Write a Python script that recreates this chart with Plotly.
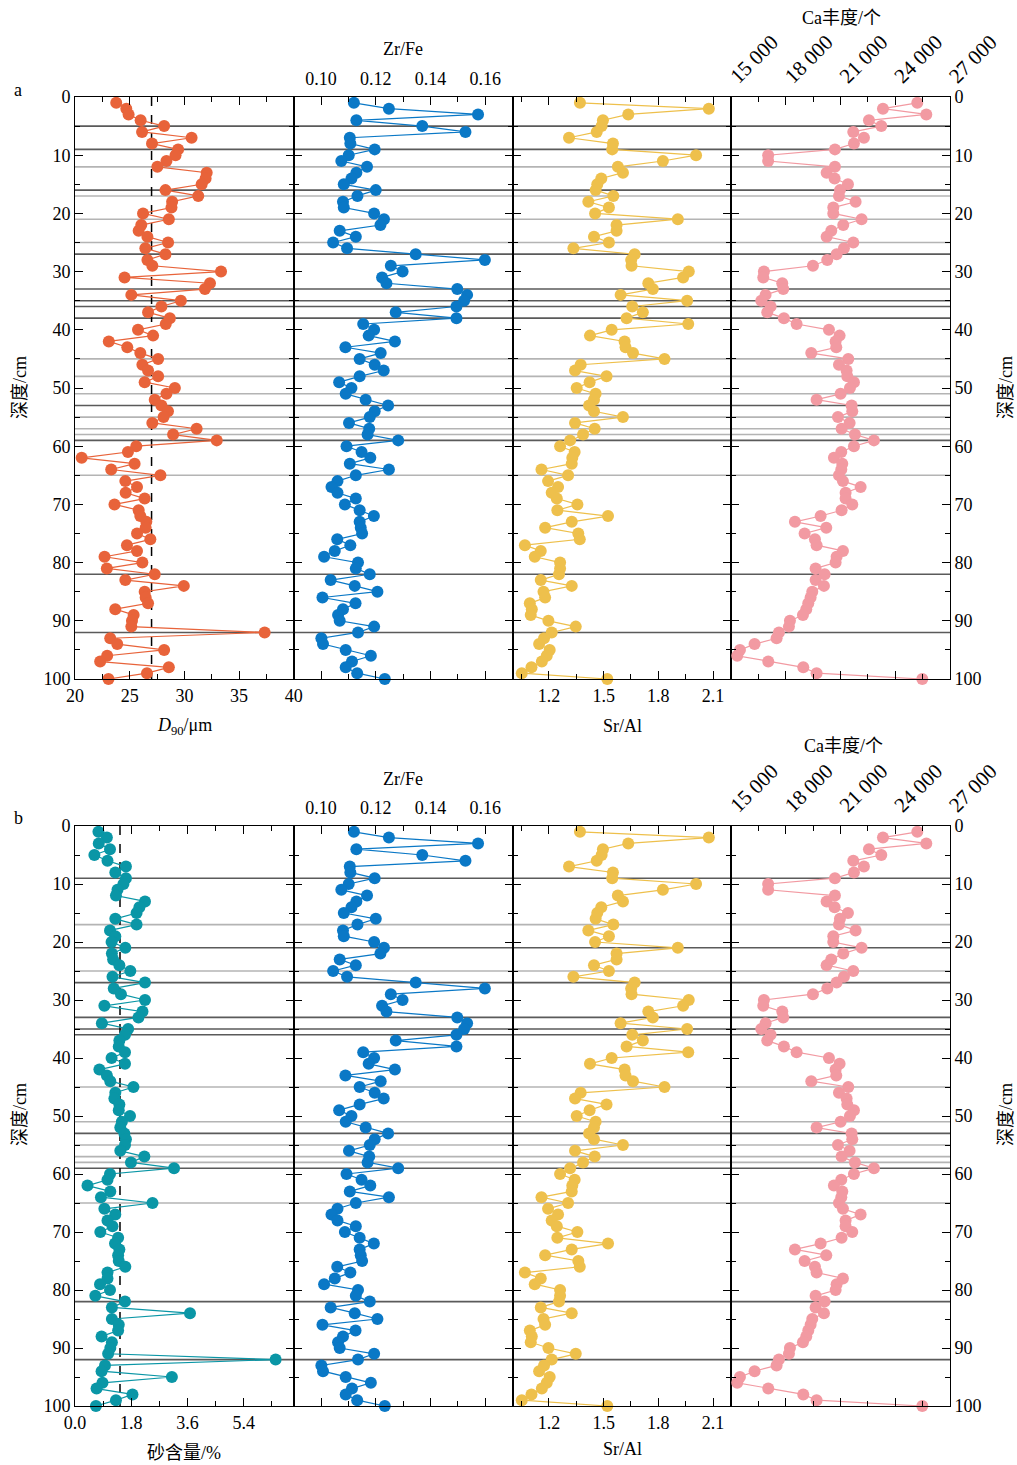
import plotly.graph_objects as go

W, H = 1017, 1465

depth = list(range(1, 101))

d90 = [23.77, 24.69, 24.9, 26.0, 28.15, 26.13, 30.66, 27.04, 29.43, 29.19,
       28.36, 27.53, 32.04, 31.94, 31.58, 28.27, 31.27, 28.88, 28.82, 26.22,
       28.58, 26.06, 25.82, 26.62, 28.51, 26.43, 28.27, 26.62, 27.07, 33.35,
       24.53, 32.34, 31.88, 25.15, 29.68, 27.9, 26.68, 28.67, 28.3, 25.76,
       27.14, 23.09, 24.78, 25.97, 27.6, 26.16, 26.68, 27.6, 26.37, 29.13,
       28.36, 27.29, 27.9, 28.5, 28.1, 27.07, 31.12, 28.97, 32.96, 25.6,
       24.84, 20.61, 25.45, 23.31, 27.81, 24.6, 25.67, 24.63, 26.37, 23.61,
       25.82, 25.97, 26.52, 26.46, 25.67, 26.89, 24.75, 25.67, 22.7, 26.16,
       22.91, 27.29, 24.6, 29.95, 26.37, 26.46, 26.68, 23.68, 25.36, 25.21,
       25.15, 37.34, 23.22, 23.86, 28.15, 22.94, 22.3, 28.58, 26.58, 23.06]

sand = [0.75, 1.02, 0.76, 1.12, 0.62, 1.04, 1.63, 1.29, 1.63, 1.55,
        1.36, 1.31, 2.24, 2.06, 1.97, 1.29, 1.97, 1.12, 1.29, 1.17,
        1.61, 1.18, 1.22, 1.42, 1.77, 1.20, 2.24, 1.24, 1.47, 2.24,
        0.94, 2.16, 2.03, 0.86, 1.70, 1.60, 1.42, 1.40, 1.60, 1.17,
        1.60, 0.78, 1.02, 1.13, 1.87, 1.29, 1.26, 1.42, 1.40, 1.76,
        1.50, 1.45, 1.58, 1.63, 1.60, 1.45, 2.22, 1.79, 3.17, 1.12,
        1.04, 0.40, 1.13, 0.83, 2.48, 0.94, 1.29, 1.04, 1.20, 0.81,
        1.38, 1.28, 1.42, 1.38, 1.40, 1.61, 1.04, 1.04, 0.80, 1.12,
        0.65, 1.60, 1.18, 3.68, 1.18, 1.40, 1.38, 0.85, 1.18, 1.13,
        1.06, 6.42, 0.96, 0.85, 3.10, 0.88, 0.69, 1.84, 1.31, 0.67]

zrfe = [0.1120, 0.1248, 0.1574, 0.1129, 0.1370, 0.1528, 0.1105, 0.1107, 0.1196, 0.1101,
        0.1074, 0.1168, 0.1129, 0.1111, 0.1083, 0.1200, 0.1133, 0.1080, 0.1083, 0.1194,
        0.1230, 0.1217, 0.1068, 0.1127, 0.1044, 0.1095, 0.1346, 0.1599, 0.1255, 0.1298,
        0.1223, 0.1239, 0.1498, 0.1534, 0.1523, 0.1495, 0.1273, 0.1495, 0.1154, 0.1194,
        0.1174, 0.1270, 0.1089, 0.1218, 0.1141, 0.1196, 0.1229, 0.1141, 0.1066, 0.1111,
        0.1090, 0.1163, 0.1245, 0.1196, 0.1178, 0.1102, 0.1176, 0.1170, 0.1282, 0.1093,
        0.1148, 0.1180, 0.1105, 0.1248, 0.1127, 0.1060, 0.1038, 0.1060, 0.1127, 0.1087,
        0.1141, 0.1193, 0.1141, 0.1145, 0.1150, 0.1059, 0.1107, 0.1050, 0.1011, 0.1135,
        0.1127, 0.1178, 0.1035, 0.1123, 0.1206, 0.1005, 0.1126, 0.1080, 0.1062, 0.1068,
        0.1194, 0.1135, 0.1001, 0.1007, 0.1090, 0.1182, 0.1113, 0.1090, 0.1132, 0.1233]

sral = [1.370, 2.077, 1.635, 1.496, 1.489, 1.462, 1.310, 1.551, 1.547, 2.007,
        1.825, 1.578, 1.606, 1.487, 1.465, 1.456, 1.553, 1.416, 1.529, 1.453,
        1.907, 1.571, 1.571, 1.447, 1.529, 1.334, 1.670, 1.651, 1.653, 1.967,
        1.936, 1.745, 1.770, 1.593, 1.958, 1.657, 1.715, 1.626, 1.964, 1.544,
        1.425, 1.615, 1.620, 1.661, 1.834, 1.374, 1.343, 1.516, 1.423, 1.352,
        1.456, 1.447, 1.420, 1.447, 1.606, 1.343, 1.451, 1.387, 1.316, 1.261,
        1.341, 1.328, 1.325, 1.159, 1.305, 1.195, 1.250, 1.215, 1.243, 1.356,
        1.246, 1.524, 1.325, 1.179, 1.361, 1.369, 1.068, 1.155, 1.122, 1.261,
        1.261, 1.255, 1.155, 1.325, 1.170, 1.179, 1.095, 1.106, 1.100, 1.197,
        1.347, 1.215, 1.173, 1.146, 1.204, 1.188, 1.161, 1.104, 1.051, 1.520]

ca = [25206, 23322, 25700, 22554, 23231, 21694, 22279, 21731, 20688, 17024,
      17024, 20688, 20231, 20670, 21402, 20963, 20908, 21822, 20597, 20597,
      22151, 21145, 20487, 20231, 21694, 21182, 20780, 20268, 19481, 16792,
      16756, 17798, 17853, 16884, 16646, 17158, 16975, 17890, 18585, 20359,
      20944, 20725, 20761, 19390, 21420, 20908, 21328, 21365, 21731, 21511,
      20999, 19682, 21603, 21639, 20853, 21493, 21054, 21786, 22828, 21731,
      21036, 20633, 21090, 21036, 20908, 21127, 22097, 21273, 21273, 21639,
      21054, 19902, 18493, 20213, 19024, 19591, 19682, 21127, 20780, 20725,
      19627, 20121, 19627, 20085, 19444, 19353, 19225, 19115, 18932, 18219,
      18164, 17615, 17487, 16280, 15476, 15329, 17030, 18951, 19682, 25480]

dark_a = [5, 9, 16, 27, 33, 35, 36, 38, 53, 59, 82, 92]
light_a = [12, 17, 21, 25, 45, 48, 51, 55, 57, 58, 65]
dark_b = [9, 21, 27, 33, 35, 36, 53, 59, 82, 92]
light_b = [17, 25, 45, 51, 55, 57, 58, 65]
d90_ref = 27.0
sand_ref = 1.44

C_D90 = "#E8633A"
C_SAND = "#0A96A6"
C_ZR = "#0A78C6"
C_SR = "#EEC04C"
C_CA = "#F29AA2"

FONT = "Liberation Serif, Times New Roman, Noto Sans CJK SC"
FS = 18

X0, X1 = 75, 950
colw = (X1 - X0) / 4
xdoms = [[(X0 + colw * i) / W, (X0 + colw * (i + 1)) / W] for i in range(4)]
ydoms = {"a": [1 - 679 / H, 1 - 97 / H], "b": [1 - 1406 / H, 1 - 826 / H]}

fig = go.Figure()

def px(x):
    return x / W

def py(y):
    return 1 - y / H

base_ax = dict(showline=True, linecolor="black", linewidth=1, mirror="ticks",
               ticks="inside", ticklen=8, tickwidth=1, tickcolor="black",
               showgrid=False, zeroline=False, automargin=False,
               tickfont=dict(family=FONT, size=FS, color="black"))

colspecs = {
    "d90": dict(vals=d90, color=C_D90, side="bottom", range=[20, 40], tick0=20, dtick=5, minor=2.5, fmt="d", angle=0, so=0, fs=FS),
    "sand": dict(vals=sand, color=C_SAND, side="bottom", range=[0, 7.0], tick0=0, dtick=1.8, minor=0.9, fmt=".1f", angle=0, so=0, fs=FS),
    "zr": dict(vals=zrfe, color=C_ZR, side="top", range=[0.09, 0.17], tick0=0.10, dtick=0.02, minor=0.01, fmt=".2f", angle=0, so=4, fs=FS),
    "sr": dict(vals=sral, color=C_SR, side="bottom", range=[1.0, 2.2], tick0=1.2, dtick=0.3, minor=0.15, fmt=".1f", angle=0, so=0, fs=FS),
    "ca": dict(vals=ca, color=C_CA, side="top", range=[15000, 27000], tick0=15000, dtick=3000, minor=1500, fmt=",d", angle=-45, so=0, fs=21),
}

layout = {}
idx = 0
for pname, cols in [("a", ["d90", "zr", "sr", "ca"]), ("b", ["sand", "zr", "sr", "ca"])]:
    for ci, key in enumerate(cols):
        idx += 1
        s = colspecs[key]
        xn = "x" if idx == 1 else f"x{idx}"
        yn = "y" if idx == 1 else f"y{idx}"
        fig.add_trace(go.Scatter(x=s["vals"], y=depth, mode="lines+markers",
                                 line=dict(color=s["color"], width=1.2),
                                 marker=dict(color=s["color"], size=12),
                                 xaxis=xn, yaxis=yn, showlegend=False,
                                 cliponaxis=False))
        xa = dict(base_ax)
        xa.update(domain=xdoms[ci], anchor=yn, side=s["side"], range=s["range"],
                  tick0=s["tick0"], dtick=s["dtick"], tickformat=s["fmt"],
                  tickangle=s["angle"], ticklabelstandoff=s["so"],
                  tickfont=dict(family=FONT, size=s["fs"], color="black"),
                  minor=dict(ticks="inside", ticklen=5, tick0=s["tick0"], dtick=s["minor"], tickcolor="black"))
        ya = dict(base_ax)
        ya.update(domain=ydoms[pname], anchor=xn, range=[100, 0], tick0=0, dtick=10,
                  minor=dict(ticks="inside", ticklen=5, tick0=0, dtick=5, tickcolor="black"),
                  showticklabels=(ci in (0, 3)), side=("right" if ci == 3 else "left"))
        layout["xaxis" if idx == 1 else f"xaxis{idx}"] = xa
        layout["yaxis" if idx == 1 else f"yaxis{idx}"] = ya

shapes = []
for yref, darks, lights in [("y", dark_a, light_a), ("y5", dark_b, light_b)]:
    for d in lights:
        shapes.append(dict(type="line", xref="paper", yref=yref, x0=px(X0), x1=px(X1), y0=d, y1=d,
                           line=dict(color="#B4B4B4", width=1.6), layer="below"))
    for d in darks:
        shapes.append(dict(type="line", xref="paper", yref=yref, x0=px(X0), x1=px(X1), y0=d, y1=d,
                           line=dict(color="#5A5A5A", width=1.6), layer="below"))
shapes.append(dict(type="line", xref="x", yref="y", x0=d90_ref, x1=d90_ref, y0=0, y1=100,
                   line=dict(color="black", width=1.5, dash="dash"), layer="below"))
shapes.append(dict(type="line", xref="x5", yref="y5", x0=sand_ref, x1=sand_ref, y0=0, y1=100,
                   line=dict(color="black", width=1.5, dash="dash"), layer="below"))

def ann(text, x, y, angle=0, size=FS):
    return dict(text=text, x=px(x), y=py(y), xref="paper", yref="paper", showarrow=False,
                xanchor="center", yanchor="middle", textangle=angle,
                font=dict(family=FONT, size=size, color="black"))

annotations = [
    ann("Zr/Fe", 403, 49), ann("Zr/Fe", 403, 779),
    ann("Ca丰度/个", 841, 18), ann("Ca丰度/个", 843, 746),
    ann("<i>D</i><sub>90</sub>/μm", 184, 726),
    ann("Sr/Al", 622, 726), ann("Sr/Al", 622, 1449),
    ann("砂含量/%", 184, 1453),
    ann("深度/cm", 20, 388, -90), ann("深度/cm", 20, 1115, -90),
    ann("深度/cm", 1006, 388, -90), ann("深度/cm", 1006, 1115, -90),
    ann("a", 18, 90), ann("b", 18, 818),
]

fig.update_layout(width=W, height=H, margin=dict(l=0, r=0, t=0, b=0, autoexpand=False),
                  paper_bgcolor="white", plot_bgcolor="rgba(0,0,0,0)",
                  separators=". ", shapes=shapes, annotations=annotations,
                  font=dict(family=FONT, size=FS, color="black"), **layout)

fig.write_html("out.html")
